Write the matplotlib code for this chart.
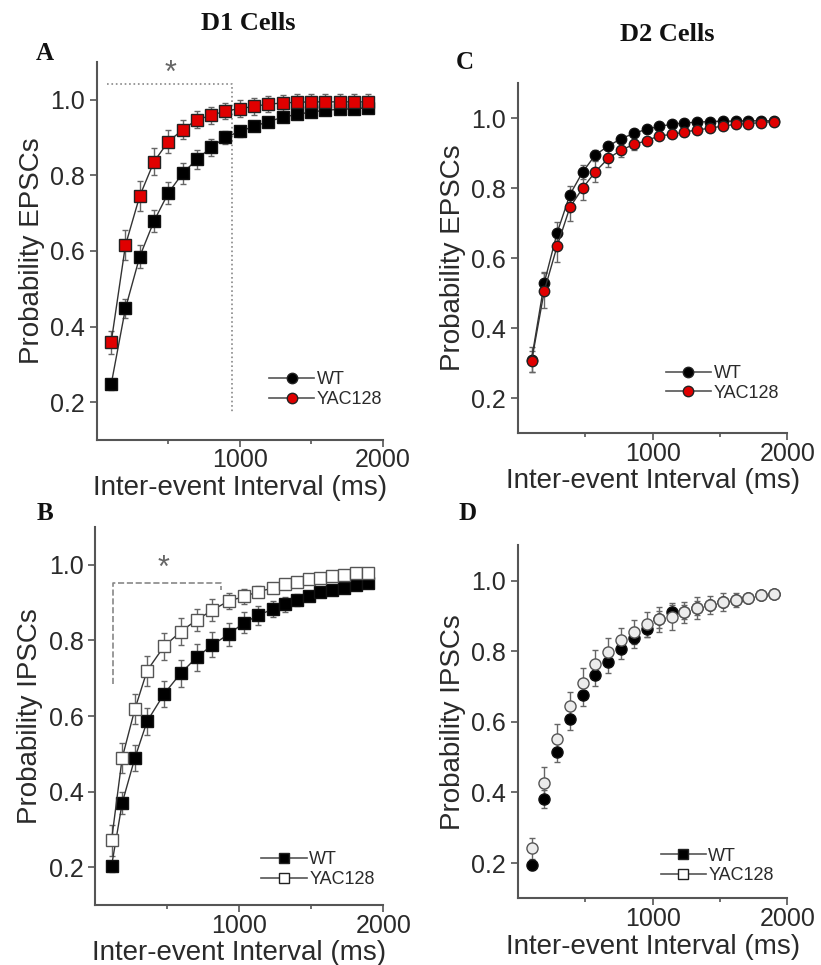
import matplotlib
matplotlib.use('Agg')
import matplotlib.pyplot as plt
from matplotlib.lines import Line2D

plt.rcParams['font.family'] = ['Liberation Sans', 'DejaVu Sans']

# Panel A - D1 cells, EPSCs
a_x = [100, 200, 300, 400, 500, 600, 700, 800, 900, 1000,
       1100, 1200, 1300, 1400, 1500, 1600, 1700, 1800, 1900]
a_wt = [0.247, 0.448, 0.585, 0.679, 0.753, 0.805, 0.842, 0.874, 0.900, 0.916,
        0.929, 0.942, 0.953, 0.961, 0.967, 0.972, 0.974, 0.976, 0.978]
a_wt_err = [0.015, 0.025, 0.03, 0.03, 0.03, 0.028, 0.025, 0.022, 0.018, 0.015,
            0.012, 0.012, 0.012, 0.012, 0.012, 0.012, 0.012, 0.012, 0.012]
a_yac = [0.358, 0.615, 0.745, 0.836, 0.889, 0.920, 0.947, 0.958, 0.970, 0.976,
         0.982, 0.988, 0.991, 0.993, 0.994, 0.994, 0.994, 0.994, 0.994]
a_yac_err = [0.03, 0.04, 0.04, 0.035, 0.03, 0.025, 0.022, 0.022, 0.022, 0.022,
             0.022, 0.022, 0.022, 0.022, 0.022, 0.022, 0.022, 0.022, 0.022]

# Panel C - D2 cells, EPSCs
c_x = [100, 195, 290, 385, 480, 575, 670, 765, 860, 955,
       1045, 1140, 1235, 1330, 1425, 1520, 1615, 1710, 1805, 1900]
c_wt = [0.31, 0.53, 0.672, 0.781, 0.846, 0.895, 0.920, 0.941, 0.956, 0.968,
        0.976, 0.982, 0.986, 0.988, 0.990, 0.991, 0.991, 0.992, 0.992, 0.992]
c_wt_err = [0.035, 0.03, 0.03, 0.025, 0.02, 0.015, 0.012, 0.01, 0.01, 0.01,
            0.008, 0.008, 0.008, 0.008, 0.008, 0.008, 0.008, 0.008, 0.008, 0.008]
c_yac = [0.305, 0.507, 0.634, 0.745, 0.800, 0.847, 0.885, 0.908, 0.925, 0.935,
         0.949, 0.953, 0.960, 0.966, 0.971, 0.977, 0.982, 0.984, 0.987, 0.990]
c_yac_err = [0.03, 0.05, 0.045, 0.04, 0.035, 0.03, 0.025, 0.02, 0.015, 0.012,
             0.01, 0.01, 0.01, 0.01, 0.01, 0.01, 0.01, 0.01, 0.01, 0.01]

# Panel B - D1 cells, IPSCs
b_x = [113, 187, 275, 360, 477, 593, 704, 813, 925, 1035,
       1132, 1232, 1314, 1400, 1483, 1562, 1644, 1725, 1813, 1895]
b_wt = [0.203, 0.370, 0.489, 0.586, 0.658, 0.713, 0.755, 0.788, 0.816, 0.847,
        0.866, 0.883, 0.895, 0.907, 0.918, 0.927, 0.933, 0.939, 0.946, 0.951]
b_wt_err = [0.015, 0.03, 0.035, 0.035, 0.035, 0.035, 0.035, 0.033, 0.03, 0.028,
            0.025, 0.022, 0.02, 0.015, 0.012, 0.01, 0.01, 0.01, 0.01, 0.01]
b_yac = [0.271, 0.489, 0.618, 0.720, 0.784, 0.823, 0.854, 0.880, 0.904, 0.916,
         0.929, 0.938, 0.948, 0.955, 0.962, 0.966, 0.971, 0.974, 0.977, 0.979]
b_yac_err = [0.04, 0.04, 0.04, 0.04, 0.035, 0.035, 0.03, 0.03, 0.02, 0.02,
             0.015, 0.012, 0.01, 0.01, 0.01, 0.01, 0.01, 0.01, 0.01, 0.01]

# Panel D - D2 cells, IPSCs
d_x = [100, 195, 290, 385, 480, 575, 670, 765, 860, 955,
       1045, 1140, 1235, 1330, 1425, 1520, 1615, 1710, 1805, 1900]
d_wt = [0.195, 0.381, 0.515, 0.607, 0.675, 0.732, 0.769, 0.807, 0.838, 0.864,
        0.890, 0.912, 0.911, 0.922, 0.931, 0.939, 0.945, 0.951, 0.958, 0.962]
d_wt_err = [0.015, 0.025, 0.03, 0.03, 0.03, 0.03, 0.03, 0.03, 0.03, 0.025,
            0.025, 0.025, 0.02, 0.02, 0.015, 0.015, 0.012, 0.01, 0.01, 0.01]
d_yac = [0.242, 0.426, 0.550, 0.645, 0.711, 0.763, 0.798, 0.831, 0.854, 0.876,
         0.890, 0.896, 0.910, 0.922, 0.931, 0.939, 0.945, 0.951, 0.958, 0.963]
d_yac_err = [0.03, 0.045, 0.045, 0.04, 0.04, 0.04, 0.04, 0.035, 0.035, 0.035,
             0.035, 0.035, 0.03, 0.03, 0.025, 0.025, 0.02, 0.015, 0.012, 0.01]

labels = ['WT', 'YAC128']
y_ticks = [0.2, 0.4, 0.6, 0.8, 1.0]
x_ticks = [1000, 2000]

# significance brackets (x, y)
a_bracket_x = [68, 947, 947]
a_bracket_y = [1.042, 1.042, 0.171]
a_star = (516, 1.068)
b_bracket_x = [120, 120, 870, 870]
b_bracket_y = [0.684, 0.951, 0.951, 0.934]
b_star = (474, 0.99)

RED = '#e00000'
AXC = '#555555'
TXT = '#2a2a2a'

fig = plt.figure(figsize=(8.21, 9.65), dpi=100)


def style_axes(ax, ylabel):
    ax.set_xlim(0, 2000)
    ax.set_ylim(0.1, 1.1)
    for s in ['top', 'right']:
        ax.spines[s].set_visible(False)
    for s in ['left', 'bottom']:
        ax.spines[s].set_color(AXC)
        ax.spines[s].set_linewidth(1.5)
    ax.set_yticks(y_ticks)
    ax.set_yticklabels(['0.2', '0.4', '0.6', '0.8', '1.0'])
    ax.set_xticks(x_ticks)
    ax.set_xticks([500, 1500], minor=True)
    ax.tick_params(axis='both', which='major', labelsize=18, colors=AXC,
                   labelcolor=TXT, length=5, width=1.2)
    ax.tick_params(axis='x', which='major', pad=1)
    ax.tick_params(axis='x', which='minor', length=3, width=1.2, colors=AXC)
    ax.set_xlabel('Inter-event Interval (ms)', fontsize=20, color=TXT, labelpad=2)
    ax.set_ylabel(ylabel, fontsize=20, color=TXT, labelpad=4)


def add_legend(ax, marker, fills, anchor):
    handles = []
    for fc in fills:
        handles.append(Line2D([], [], color='#555555', lw=1.2, marker=marker,
                              markersize=7.5, markerfacecolor=fc,
                              markeredgecolor='#222222'))
    ax.legend(handles, labels, loc='lower right', bbox_to_anchor=anchor,
              frameon=False, fontsize=13, handlelength=2.5,
              handletextpad=0.15, labelspacing=0.15, borderaxespad=0,
              borderpad=0, labelcolor=TXT)


def plot_series(ax, x, y, err, marker, fc, ec, ms, line=True):
    ax.errorbar(x, y, yerr=err, fmt='none', ecolor='#666666', elinewidth=1,
                capsize=2.5, capthick=1, zorder=2)
    ax.plot(x, y, linestyle='-' if line else 'none', color='#333333', lw=1,
            marker=marker, markersize=ms, markerfacecolor=fc,
            markeredgecolor=ec, markeredgewidth=1, zorder=3)


# A
axA = fig.add_axes([0.118, 0.544, 0.348, 0.392])
plot_series(axA, a_x, a_wt, a_wt_err, 's', 'black', '#111111', 8.5)
plot_series(axA, a_x, a_yac, a_yac_err, 's', RED, '#222222', 8.5)
axA.plot(a_bracket_x, a_bracket_y, linestyle=':', color='#888888', lw=1.2)
axA.text(a_star[0], a_star[1], '*', fontsize=22, color='#666666', ha='center', va='center')
style_axes(axA, 'Probability EPSCs')
add_legend(axA, 'o', ['black', RED], (1.0, 0.085))

# C
axC = fig.add_axes([0.631, 0.551, 0.328, 0.363])
plot_series(axC, c_x, c_wt, c_wt_err, 'o', 'black', '#111111', 7.5)
plot_series(axC, c_x, c_yac, c_yac_err, 'o', RED, '#222222', 7.5)
style_axes(axC, 'Probability EPSCs')
add_legend(axC, 'o', ['black', RED], (0.97, 0.09))

# B
axB = fig.add_axes([0.116, 0.062, 0.351, 0.392])
plot_series(axB, b_x, b_wt, b_wt_err, 's', 'black', '#111111', 8)
plot_series(axB, b_x, b_yac, b_yac_err, 's', 'white', '#555555', 8)
axB.plot(b_bracket_x, b_bracket_y, linestyle='--', color='#888888', lw=1.2)
axB.text(b_star[0], b_star[1], '*', fontsize=22, color='#666666', ha='center', va='center')
style_axes(axB, 'Probability IPSCs')
add_legend(axB, 's', ['black', 'white'], (0.97, 0.045))

# D
axD = fig.add_axes([0.631, 0.069, 0.328, 0.366])
plot_series(axD, d_x, d_wt, d_wt_err, 'o', 'black', '#111111', 8, line=False)
plot_series(axD, d_x, d_yac, d_yac_err, 'o', '#ececec', '#555555', 8, line=False)
style_axes(axD, 'Probability IPSCs')
add_legend(axD, 's', ['black', 'white'], (0.95, 0.04))

# titles and panel letters
serif = dict(family=['Liberation Serif', 'DejaVu Serif'], fontweight='bold', color='#111111')
fig.text(0.302, 0.976, 'D1 Cells', fontsize=19, ha='center', va='center', **serif)
fig.text(0.8125, 0.964, 'D2 Cells', fontsize=19, ha='center', va='center', **serif)
fig.text(0.055, 0.945, 'A', fontsize=18, ha='center', va='center', **serif)
fig.text(0.566, 0.935, 'C', fontsize=18, ha='center', va='center', **serif)
fig.text(0.055, 0.468, 'B', fontsize=18, ha='center', va='center', **serif)
fig.text(0.569, 0.468, 'D', fontsize=18, ha='center', va='center', **serif)

fig.savefig('out.png', dpi=100)
